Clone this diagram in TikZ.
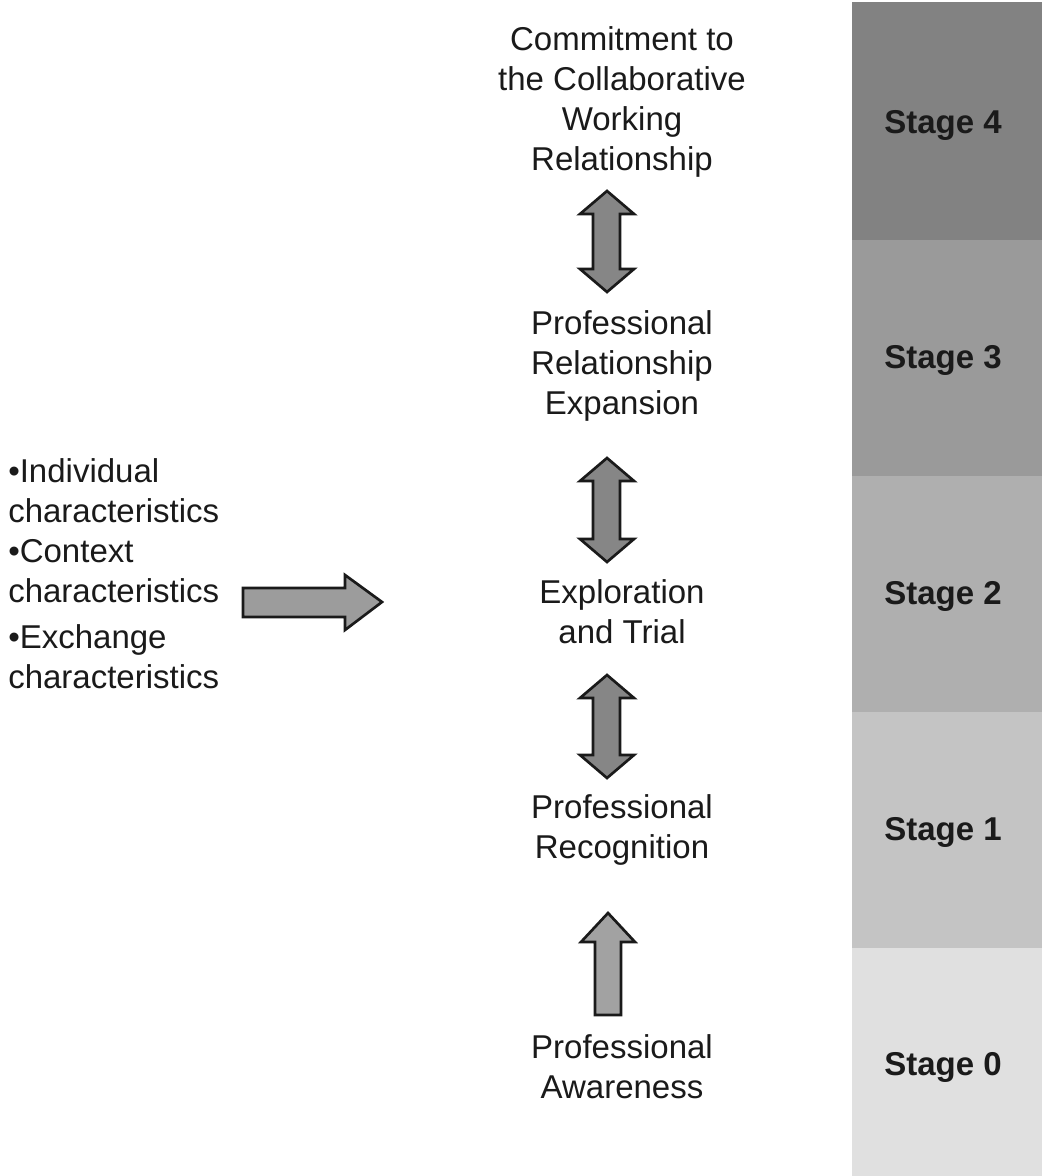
\documentclass[tikz,border=0pt]{standalone}
\usepackage{fontspec}
\setmainfont{Liberation Sans}
\definecolor{txt}{HTML}{1A1A1A}
\definecolor{sfour}{HTML}{828282}
\definecolor{sthree}{HTML}{9A9A9A}
\definecolor{stwo}{HTML}{AFAFAF}
\definecolor{sone}{HTML}{C4C4C4}
\definecolor{szero}{HTML}{E0E0E0}
\definecolor{dblfill}{HTML}{868686}
\definecolor{upfill}{HTML}{A2A2A2}
\definecolor{rtfill}{HTML}{9C9C9C}
\begin{document}
\begin{tikzpicture}[x=0.75pt,y=-0.75pt,
  lbl/.style={align=center,text=txt,font=\fontsize{24.75pt}{30pt}\selectfont,inner sep=0pt},
  lst/.style={align=left,text=txt,font=\fontsize{24.75pt}{30pt}\selectfont,inner sep=0pt,anchor=west},
  stg/.style={text=txt,font=\fontsize{24.75pt}{30pt}\selectfont\bfseries,inner sep=0pt},
  band/.style={draw=none},
  blockarrow/.style={draw=txt,line width=2pt,line join=miter}]
\useasboundingbox (0,0) rectangle (1042,1176);
\fill[white] (0,0) rectangle (1042,1176);

% stage bands
\fill[band,fill=sfour]  (852,2)   rectangle (1042,240);
\fill[band,fill=sthree] (852,240) rectangle (1042,476);
\fill[band,fill=stwo]   (852,476) rectangle (1042,712);
\fill[band,fill=sone]   (852,712) rectangle (1042,948);
\fill[band,fill=szero]  (852,948) rectangle (1042,1176);
\node[stg] (s4) at (943,125) {Stage 4};
\node[stg] (s3) at (943,360) {Stage 3};
\node[stg] (s2) at (943,596) {Stage 2};
\node[stg] (s1) at (943,832) {Stage 1};
\node[stg] (s0) at (943,1067) {Stage 0};

% central column
\node[lbl] (commit) at (622,102) {Commitment to\\the Collaborative\\Working\\Relationship};
\node[lbl] (expan) at (622,366) {Professional\\Relationship\\Expansion};
\node[lbl] (explo) at (622,612) {Exploration\\and Trial};
\node[lbl] (recog) at (622,830) {Professional\\Recognition};
\node[lbl] (aware) at (622,1067) {Professional\\Awareness};

% left list
\node[lst] (ind) at (8,491) {•Individual\\characteristics};
\node[lst] (ctx) at (8,571) {•Context\\characteristics};
\node[lst] (exc) at (8,657) {•Exchange\\characteristics};

% double arrows (cx, top, bottom)
\foreach \cx/\ty/\by in {607/191/292, 607/458/562, 607/675/778}{
  \draw[blockarrow,fill=dblfill]
    (\cx,\ty) -- (\cx+27,\ty+23) -- (\cx+13,\ty+23) -- (\cx+13,\by-23)
    -- (\cx+27,\by-23) -- (\cx,\by) -- (\cx-27,\by-23) -- (\cx-14,\by-23)
    -- (\cx-14,\ty+23) -- (\cx-27,\ty+23) -- cycle;
}
% up arrow
\draw[blockarrow,fill=upfill]
  (608,913) -- (635,942) -- (621,942) -- (621,1015) -- (595,1015)
  -- (595,942) -- (581,942) -- cycle;
% right arrow
\draw[blockarrow,fill=rtfill]
  (382,602) -- (345,575) -- (345,588) -- (243,588) -- (243,617)
  -- (345,617) -- (345,630) -- cycle;
\end{tikzpicture}
\end{document}
